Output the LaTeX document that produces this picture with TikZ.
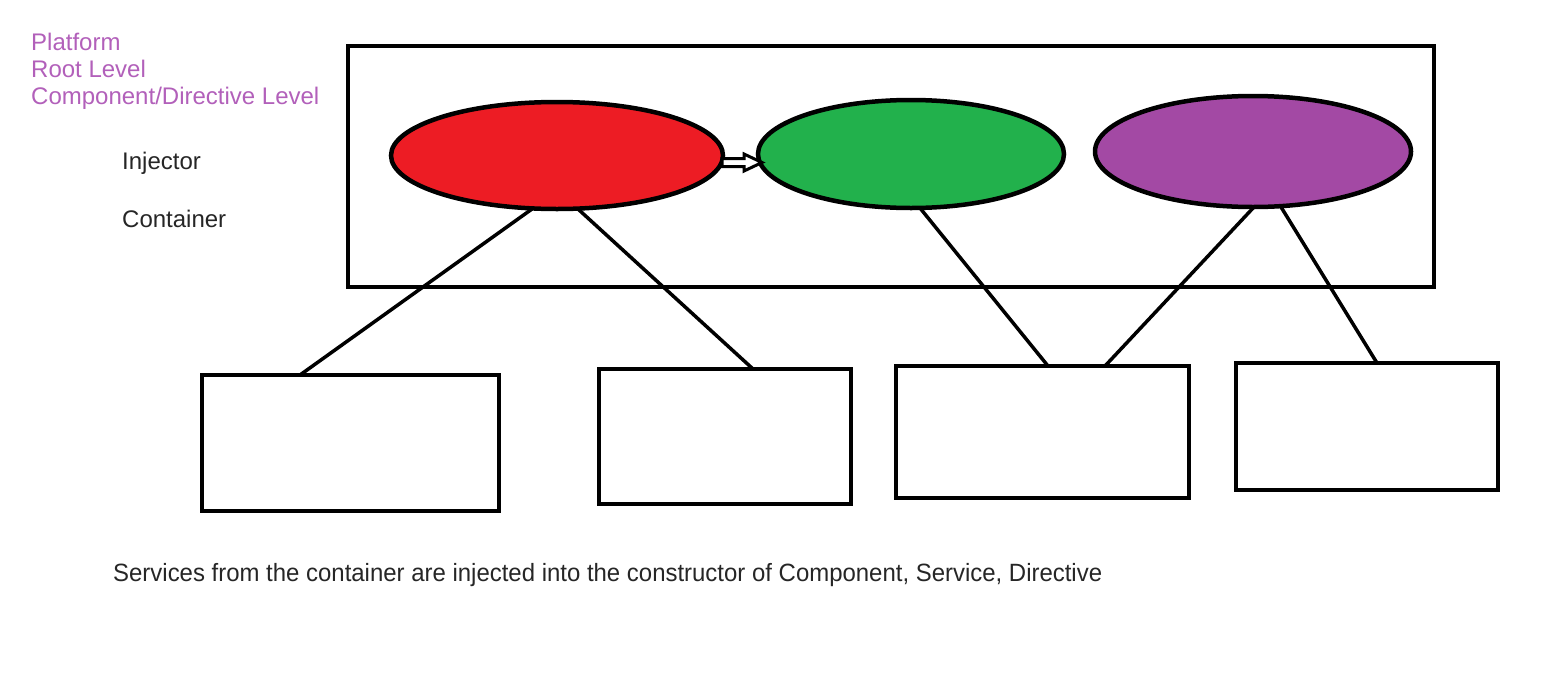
\documentclass[tikz,border=0pt]{standalone}
\usepackage{fontspec}
\setmainfont{Liberation Sans}
\usetikzlibrary{shapes.geometric,calc}
\definecolor{pred}{HTML}{ED1C24}
\definecolor{pgreen}{HTML}{22B14C}
\definecolor{ppurple}{HTML}{A349A4}
\definecolor{ptext}{HTML}{B260BA}
\definecolor{dtext}{HTML}{262626}
\tikzset{
  box/.style={draw=black, line width=4pt, rectangle, inner sep=0pt, outer sep=0pt},
  blob/.style={draw=black, line width=4.5pt, ellipse, inner sep=0pt, outer sep=0pt},
  link/.style={draw=black, line width=3.5pt},
  hollowarrow/.style={draw=black, fill=white, line width=3pt, line join=miter},
  lvl/.style={anchor=base west, inner sep=0pt, text=ptext, font=\fontsize{24pt}{27pt}\selectfont},
  lbl/.style={anchor=base west, inner sep=0pt, text=dtext, font=\fontsize{24pt}{27pt}\selectfont},
}
\begin{document}
\begin{tikzpicture}[x=1pt,y=-1pt]
\useasboundingbox (0,0) rectangle (1561,683);
\node[box, minimum width=1086pt, minimum height=241pt] (outer) at (891,166.5) {};
\node[blob, fill=pred, minimum width=332pt, minimum height=107pt] (red) at (557,155.5) {};
\node[blob, fill=pgreen, minimum width=306pt, minimum height=108pt] (green) at (911,154) {};
\node[blob, fill=ppurple, minimum width=316pt, minimum height=111pt] (purple) at (1253,151.5) {};
\node[box, minimum width=297pt, minimum height=136pt] (b1) at (350.5,443) {};
\node[box, minimum width=252pt, minimum height=135pt] (b2) at (725,436.5) {};
\node[box, minimum width=293pt, minimum height=132pt] (b3) at (1042.5,432) {};
\node[box, minimum width=262pt, minimum height=127pt] (b4) at (1367,426.5) {};
\coordinate (a0) at ($(red.east)+(-1,7)$);
\path[hollowarrow] (a0) ++(0,-4) -- ++(22,0) -- ++(0,-4.5) -- ++(18,8.5) -- ++(-18,8.5) -- ++(0,-4.5) -- ++(-22,0) -- cycle;
\path[link] ($(red.south)+(-25,0)$) -- ($(b1.north west)+(98,0)$);
\path[link] ($(red.south)+(21,0)$) -- ($(b2.north west)+(154,0)$);
\path[link] ($(green.south)+(9,0)$) -- ($(b3.north west)+(152,0)$);
\path[link] ($(purple.south)+(1,0)$) -- ($(b3.north west)+(209,0)$);
\path[link] ($(purple.south)+(28,0)$) -- ($(b4.north west)+(141,0)$);
\node[lvl] (t1) at (31,50) {Platform};
\node[lvl] (t2) at (31,77) {Root Level};
\node[lvl] (t3) at (31,104) {Component/Directive Level};
\node[lbl] (inj) at (122,169) {Injector};
\node[lbl] (con) at (122,227) {Container};
\node[lbl, font=\fontsize{25pt}{29pt}\selectfont] (note) at (113,581) {\resizebox{989pt}{\height}{Services from the container are injected into the constructor of Component, Service, Directive}};
\end{tikzpicture}
\end{document}
